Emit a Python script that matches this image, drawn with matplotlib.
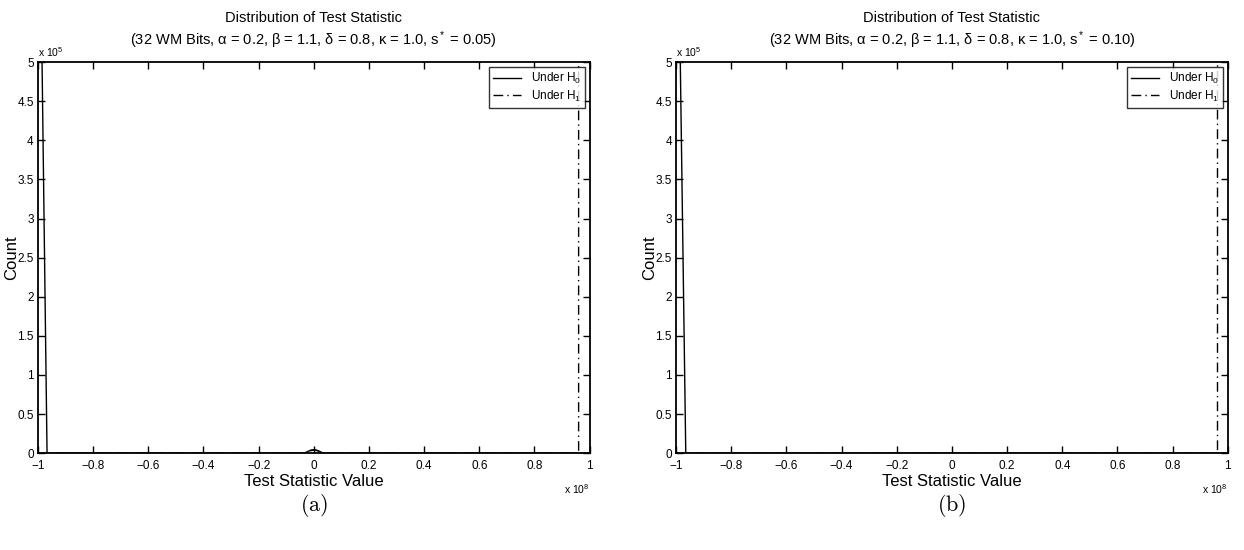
import matplotlib
matplotlib.use("Agg")
import matplotlib.pyplot as plt

plt.rcParams['font.family'] = ['Liberation Sans', 'DejaVu Sans']
plt.rcParams['mathtext.fontset'] = 'custom'
plt.rcParams['mathtext.rm'] = 'Liberation Sans'
plt.rcParams['mathtext.it'] = 'Liberation Sans'

# test statistic in units of 1e8, counts in units of 1e5
h0_x_a = [-0.988, -0.967, -0.035, -0.02, -0.01, 0.0, 0.01, 0.02, 0.035, 1.0]
h0_y_a = [5.8, 0.0, 0.0, 0.025, 0.04, 0.045, 0.04, 0.025, 0.0, 0.0]
h1_x_a = [-1.0, -0.03, -0.015, 0.0, 0.015, 0.03, 0.96, 0.96]
h1_y_a = [0.0, 0.0, 0.03, 0.04, 0.03, 0.0, 0.0, 5.8]

h0_x_b = [-0.988, -0.965, 1.0]
h0_y_b = [5.8, 0.0, 0.0]
h1_x_b = [-1.0, 0.962, 0.962]
h1_y_b = [0.0, 0.0, 5.8]

s_star = ['0.05', '0.10']
panel_tags = ['(a)', '(b)']
xticks = [-1, -0.8, -0.6, -0.4, -0.2, 0, 0.2, 0.4, 0.6, 0.8, 1]
xticklabels = ['\u22121', '\u22120.8', '\u22120.6', '\u22120.4', '\u22120.2', '0',
               '0.2', '0.4', '0.6', '0.8', '1']
yticks = [0, 0.5, 1, 1.5, 2, 2.5, 3, 3.5, 4, 4.5, 5]
yticklabels = ['0', '0.5', '1', '1.5', '2', '2.5', '3', '3.5', '4', '4.5', '5']

fig = plt.figure(figsize=(12.44, 5.5), dpi=100)
ax_a = fig.add_axes([0.0305, 0.176, 0.4435, 0.711])
ax_b = fig.add_axes([0.5435, 0.176, 0.4435, 0.711])

data = [(h0_x_a, h0_y_a, h1_x_a, h1_y_a), (h0_x_b, h0_y_b, h1_x_b, h1_y_b)]

for ax, (x0, y0, x1, y1), s, tag in zip([ax_a, ax_b], data, s_star, panel_tags):
    ax.plot(x0, y0, color='black', lw=1.0, label='Under H$_0$')
    ax.plot(x1, y1, color='black', lw=1.0, dashes=(7, 3, 1, 3), label='Under H$_1$')
    ax.set_xlim(-1, 1)
    ax.set_ylim(0, 5)
    ax.set_xticks(xticks)
    ax.set_xticklabels(xticklabels)
    ax.set_yticks(yticks)
    ax.set_yticklabels(yticklabels)
    ax.tick_params(direction='in', top=True, right=True, length=5, width=1,
                   labelsize=8.5)
    ax.tick_params(axis='x', pad=5)
    ax.tick_params(axis='y', pad=3)
    for sp in ax.spines.values():
        sp.set_linewidth(1.3)
    ax.set_xlabel('Test Statistic Value', fontsize=12, labelpad=1)
    ax.set_ylabel('Count', fontsize=12)
    ax.yaxis.set_label_coords(-0.035, 0.5)
    ax.set_title('Distribution of Test Statistic\n'
                 '(32 WM Bits, \u03b1 = 0.2, \u03b2 = 1.1, \u03b4 = 0.8, '
                 '\u03ba = 1.0, s$^*$ = ' + s + ')',
                 fontsize=10.5, pad=12, linespacing=1.3)
    ax.text(0.0, 1.008, 'x 10$^5$', transform=ax.transAxes, fontsize=7.5,
            ha='left', va='bottom')
    ax.text(1.0, -0.075, 'x 10$^8$', transform=ax.transAxes, fontsize=7.5,
            ha='right', va='top')
    ax.text(0.5, -0.10, '$\\mathrm{' + tag + '}$', transform=ax.transAxes,
            fontsize=16, ha='center', va='top', math_fontfamily='cm')
    leg = ax.legend(loc='upper right', fontsize=8.5, frameon=True, fancybox=False,
                    edgecolor='black', handlelength=2.4, borderpad=0.35,
                    labelspacing=0.2, borderaxespad=0.4, handletextpad=0.8)
    leg.get_frame().set_linewidth(1.0)

fig.savefig('out.png', dpi=100)
